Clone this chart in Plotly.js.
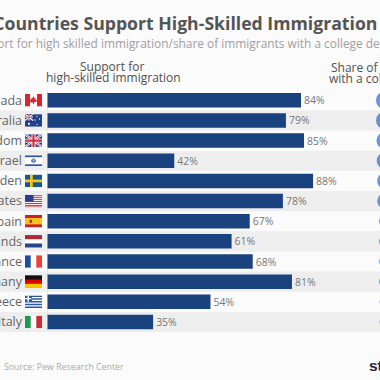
<!DOCTYPE html>
<html><head><meta charset="utf-8">
<script src="https://cdn.plot.ly/plotly-3.0.1.min.js"></script>
<style>html,body{margin:0;padding:0;width:380px;height:380px;overflow:hidden;background:#fbfbfb}
#c{position:absolute;left:-40px;top:0;width:470px;height:380px}</style>
</head><body><div id="c"></div>
<script>
const countries=["Canada","Australia","United Kingdom","Israel","Sweden","United States","Spain","Netherlands","France","Germany","Greece","Italy"];
const support=[84,79,85,42,88,78,67,61,68,81,54,35];
const collegeShare=[46,46,41,39,35,34,20,20,20,20,17,17];
const flags=[
'<rect width="17" height="13" fill="#fff"/><rect width="5" height="13" fill="#d8262c"/><rect x="12" width="5" height="13" fill="#d8262c"/><path d="M8.5 2.5l1 2 1.3-.5-.5 2.5 1.4-.6.3 1.2-1.8 1.4H9v1.8H8V8.8H6l-1.8-1.4.3-1.2 1.4.6-.5-2.5 1.3.5z" fill="#d8262c"/>',
'<rect width="17" height="13" fill="#1f3f8f"/><rect width="8" height="6.5" fill="#24387f"/><path d="M0 0l8 6.5M8 0L0 6.5" stroke="#fff" stroke-width="1.2"/><path d="M4 0v6.5M0 3.2h8" stroke="#fff" stroke-width="1.5"/><path d="M4 0v6.5M0 3.2h8" stroke="#d0323c" stroke-width=".8"/><g fill="#fff"><circle cx="4" cy="10" r="1.1"/><circle cx="12" cy="2.5" r=".7"/><circle cx="14.5" cy="5" r=".7"/><circle cx="10" cy="6" r=".7"/><circle cx="12" cy="10.5" r=".7"/></g>',
'<rect width="17" height="13" fill="#27408b"/><path d="M0 0l17 13M17 0L0 13" stroke="#fff" stroke-width="2.4"/><path d="M0 0l17 13M17 0L0 13" stroke="#cf2e3c" stroke-width=".9"/><path d="M8.5 0v13M0 6.5h17" stroke="#fff" stroke-width="4"/><path d="M8.5 0v13M0 6.5h17" stroke="#cf2e3c" stroke-width="2.2"/>',
'<rect width="17" height="13" fill="#fff"/><rect y="1" width="17" height="1.8" fill="#2a55b0"/><rect y="10.2" width="17" height="1.8" fill="#2a55b0"/><path d="M8.5 4l2 3.3h-4zM8.5 9l2-3.3h-4z" fill="none" stroke="#2a55b0" stroke-width=".7"/>',
'<rect width="17" height="13" fill="#14598f"/><rect x="5" width="2.8" height="13" fill="#f7c516"/><rect y="5.1" width="17" height="2.8" fill="#f7c516"/>',
'<rect width="17" height="13" fill="#fff"/><path d="M0 1h17M0 3h17M0 5h17M0 7h17M0 9h17M0 11h17M0 12.6h17" stroke="#c8323c" stroke-width="1"/><rect width="8.5" height="7" fill="#2f3d8f"/>',
'<rect width="17" height="13" fill="#c8202c"/><rect y="3.2" width="17" height="6.6" fill="#f8c41a"/><rect x="4.5" y="5" width="2.6" height="3.2" fill="#b3322a"/>',
'<rect width="17" height="13" fill="#fff"/><rect width="17" height="4.3" fill="#ad2a36"/><rect y="8.7" width="17" height="4.3" fill="#27468c"/>',
'<rect width="17" height="13" fill="#fff"/><rect width="5.7" height="13" fill="#1f4e9f"/><rect x="11.3" width="5.7" height="13" fill="#ef4135"/>',
'<rect width="17" height="13" fill="#dd0000"/><rect width="17" height="4.3" fill="#111"/><rect y="8.7" width="17" height="4.3" fill="#f8c800"/>',
'<rect width="17" height="13" fill="#2a55a8"/><path d="M7 2.2h10M7 5h10M0 7.8h17M0 10.6h17" stroke="#fff" stroke-width="1.3"/><path d="M3.2 0v6.4M0 3.2h6.4" stroke="#fff" stroke-width="1.4"/>',
'<rect width="17" height="13" fill="#fff"/><rect width="5.7" height="13" fill="#1c9a4e"/><rect x="11.3" width="5.7" height="13" fill="#ce2b37"/>'
];
const W=470,H=380,OFF=40,PXX=3.018,X0=47.5,Y0=100.3,ROW=20.15;
const pageX=px=>(px+OFF)/W;
const pageY=py=>1-py/H;
const xv=px=>(px-X0)/PXX;
const yv=py=>(py-Y0)/ROW;
const bands=[],images=[];
countries.forEach((c,i)=>{
  if(i%2===1)bands.push({type:'rect',xref:'paper',x0:0,x1:1,yref:'y',y0:i-0.5,y1:i+0.5,fillcolor:'#eeeeee',line:{width:0},layer:'below'});
  images.push({source:'data:image/svg+xml,'+encodeURIComponent('<svg xmlns="http://www.w3.org/2000/svg" width="68" height="52" viewBox="0 0 17 13" preserveAspectRatio="none">'+flags[i]+'</svg>'),
    xref:'paper',yref:'paper',x:pageX(25),y:pageY(Y0+ROW*i-6.3),sizex:17/W,sizey:12.6/H,sizing:'stretch',xanchor:'left',yanchor:'top',layer:'above'});
});
bands.push({type:'line',xref:'x',x0:0,x1:0,yref:'y',y0:-0.5,y1:11.5,line:{color:'#dfe7f2',width:1},layer:'below'});
const note=(text,px,py,size,color,anchor,weight,family)=>({text,xref:'paper',yref:'paper',x:pageX(px),y:pageY(py),xanchor:anchor,yanchor:'middle',showarrow:false,align:'center',font:{family:family||'"Open Sans",sans-serif',size,color,weight:weight||400},borderpad:0});
Plotly.newPlot('c',[
 {type:'bar',orientation:'h',y:countries,x:support,marker:{color:'#19427f'},width:0.72,
  text:support.map(v=>v+'%'),textposition:'outside',cliponaxis:false,textfont:{family:'"Open Sans",sans-serif',size:13,color:'#777777'},hoverinfo:'skip'},
 {type:'scatter',mode:'markers',y:countries,x:countries.map(()=>xv(385)),marker:{size:collegeShare,sizemode:'area',sizeref:0.284,color:'#2a6bc6',line:{width:0}},hoverinfo:'skip'}
],{
 width:W,height:H,margin:{l:0,r:0,t:0,b:0,pad:0},paper_bgcolor:'#fbfbfb',plot_bgcolor:'rgba(0,0,0,0)',showlegend:false,
 xaxis:{range:[xv(-OFF),xv(W-OFF)],visible:false,fixedrange:true},
 yaxis:{type:'category',categoryorder:'array',categoryarray:countries,range:[yv(H),yv(0)],anchor:'free',position:pageX(47),
  showgrid:false,zeroline:false,showline:false,ticks:'',ticklabelstandoff:25,automargin:false,tickfont:{family:'"Open Sans",sans-serif',size:12.5,color:'#666666'},fixedrange:true},
 shapes:bands,images:images,
 annotations:[
  note('Which Countries Support High-Skilled Immigration',378,23,17.65,'#555555','right',700),
  note('Support for high skilled immigration/share of immigrants with a college degree',-32,43,11.9,'#a0a0a0','left'),
  note('Support for',112,66,12,'#505050','center',500),
  note('high-skilled immigration',113,78,12,'#505050','center',500),
  note('Share of immigrants',388,67,12,'#505050','center',500),
  note('with a college degree',388,79,12,'#505050','center',500),
  note('Source: Pew Research Center',3,367,8.8,'#aaaaaa','left'),
  note('statista',368,365,15.5,'#1c2a3d','left',700,'"Liberation Sans Narrow","Liberation Sans",sans-serif')
 ]
},{displayModeBar:false,staticPlot:true});
</script></body></html>
